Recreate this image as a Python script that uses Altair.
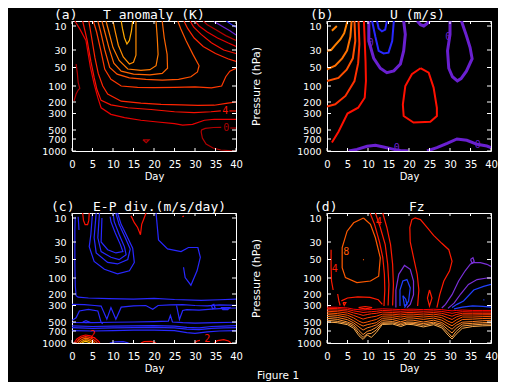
import altair as alt
import pandas as pd

FONT = "DejaVu Sans Mono"
SANS = "DejaVu Sans"
W, H = 164, 130
DAY_TICKS = [0, 5, 10, 15, 20, 25, 30, 35, 40]
P_TICKS = [10, 30, 50, 100, 200, 300, 500, 700, 1000]
P_DOMAIN = [6, 10, 30, 50, 100, 200, 300, 500, 700, 1000]
P_RANGE = [0, 5, 29, 46.5, 65, 81, 92.5, 109, 118, 130]

DKRED = "#b00000"
PURPLE = "#6a20d0"
BLUE = "#2828ff"

# ---------------- (a) T anomaly ----------------
A_LINES = [
    ("c2", "#e80000", 1.2, [0.7, 2.0, 3.4, 4.5, 5.4, 6.3, 7.1, 9.5, 12.8, 16.8, 20.9, 25.0, 27.0, 29.4, 32.3, 34.7, 40.0],
     [6, 13, 22, 50, 95, 173, 250, 310, 350, 382, 403, 423, 440, 431, 382, 370, 370]),
    ("c4", "#f81000", 1.2, [2.6, 3.7, 4.6, 5.4, 6.1, 7.1, 9.5, 13.6, 19.3, 25.0, 29.8, 33.9, 36.3],
     [6, 22, 43, 77, 124, 190, 225, 250, 265, 285, 293, 285, 278]),
    ("c4b", "#f81000", 1.2, [38.4, 40.0], [278, 278]),
    ("c6", "#ff2400", 1.2, [4.1, 4.8, 5.6, 6.4, 7.5, 8.7, 12.0, 16.8, 21.7, 26.6, 30.7, 34.7, 38.0, 40.0],
     [6, 20, 39, 66, 100, 150, 195, 210, 220, 225, 230, 228, 210, 200]),
    ("c8", "#ff3800", 1.2, [5.2, 6.0, 7.0, 8.0, 9.5, 12.0, 16.0, 20.0, 25.0, 30.0, 34.0, 36.5, 37.5, 38.5, 40.0],
     [6, 15, 30, 55, 82, 100, 108, 110, 108, 106, 112, 100, 75, 60, 52]),
    ("c10", "#ff5000", 1.2, [6.3, 7.0, 8.0, 9.2, 11.0, 14.0, 18.0, 22.0, 26.0, 29.0, 30.6, 31.0, 29.5, 27.8, 26.5, 25.8],
     [6, 15, 30, 50, 68, 78, 82, 84, 82, 75, 62, 48, 35, 22, 12, 6]),
    ("c12", "#ff6400", 1.2, [7.3, 8.0, 9.0, 10.2, 12.0, 15.0, 19.0, 22.0, 23.3, 23.2, 22.5, 22.0],
     [6, 15, 28, 45, 60, 68, 70, 66, 52, 35, 20, 6]),
    ("c14", "#ff7800", 1.2, [8.3, 9.0, 10.0, 11.5, 13.6, 16.8, 19.0, 20.5, 21.0, 20.8, 20.5],
     [6, 15, 28, 42, 54, 58, 56, 48, 35, 20, 6]),
    ("c16", "#ff8c00", 1.2, [10.0, 10.5, 11.3, 12.5, 14.0, 15.0, 15.6, 15.6, 15.6],
     [6, 14, 26, 38, 46, 44, 36, 20, 6]),
    ("c18", "#ffaa00", 1.2, [12.0, 12.3, 12.8, 13.4, 14.0, 14.5, 14.8], [6, 12, 20, 25, 22, 14, 6]),
    ("f6", "#ff2400", 1.2, [27.3, 28.2, 29.8, 32.0, 35.0, 38.0, 40.0], [6, 12, 20, 27, 34, 40, 43]),
    ("f4", "#f81000", 1.2, [28.8, 29.7, 31.5, 34.0, 37.0, 40.0], [6, 11, 17, 24, 30, 34]),
    ("f2", "#e80000", 1.2, [30.0, 31.0, 33.0, 35.5, 38.0, 40.0], [6, 10, 15, 20, 24, 27]),
    ("f0", DKRED, 1.2, [32.0, 33.0, 35.0, 37.5, 40.0], [6, 9, 13, 18, 22]),
    ("fm2", PURPLE, 1.2, [34.7, 36.5, 38.5, 40.0], [6.5, 10, 14, 17.5]),
    ("fm4", BLUE, 1.2, [37.6, 39.0, 40.0], [6, 9, 11]),
    ("z1", DKRED, 1.2, [1.0, 1.3, 1.5, 1.9, 1.5, 1.0, 0.5], [46, 65, 90, 115, 125, 150, 194]),
    ("z2", DKRED, 1.2, [40.0, 38.6], [476, 476]),
    ("z3", DKRED, 1.2, [36.4, 34.5, 32.5, 31.6, 31.5, 31.8, 32.7, 34.4, 36.3, 39.0, 40.0],
     [468, 470, 480, 500, 540, 678, 825, 925, 975, 995, 1000]),
    ("z4", DKRED, 1.2, [17.3, 18.8, 18.1, 17.3], [720, 720, 790, 720]),
]
A_LABELS = [("4", 37.4, 278, "#f81000"), ("0", 37.6, 474, DKRED)]

# ---------------- (b) U ----------------
B_LINES = [
    ("o0", "#ff8000", 2, [1.2, 2.4], [14, 10]),
    ("b1", "#ff8000", 2, [5.0, 4.2, 3.3, 2.0, 1.0, 0.0], [6, 16, 21, 26, 30, 31]),
    ("b2", "#ff7000", 2, [6.0, 5.7, 4.9, 3.7, 2.0, 0.0], [6, 19, 30.5, 39.5, 48, 55]),
    ("b3", "#ff5000", 2, [6.7, 6.9, 6.3, 4.8, 2.8, 0.0], [6, 22.5, 39.5, 56, 78, 86.5]),
    ("b4", "#ff3000", 2, [7.7, 7.9, 7.6, 6.7, 4.5, 2.0, 0.0], [6, 25, 45, 86.5, 162, 220, 240]),
    ("b5", "#ff1000", 2, [9.0, 9.2, 9.4, 9.5, 9.2, 7.6, 5.0, 4.1, 2.8, 1.2],
     [6, 22.5, 43, 86.5, 173, 250, 300, 391, 540, 790]),
    ("p0", PURPLE, 3, [10.2, 10.2, 11.4, 13.0, 14.6, 16.3, 17.9, 18.7, 19.1, 18.7],
     [6, 22.5, 39.5, 52, 64, 59, 46, 31, 17, 6]),
    ("n1", BLUE, 2, [11.0, 11.8, 12.6, 13.8, 15.0, 15.9, 16.3], [6, 19, 31, 34, 33, 22.5, 6]),
    ("n2", BLUE, 2, [12.2, 12.6, 13.4, 14.2, 14.6], [6, 12, 14.5, 13, 6]),
    ("p1", PURPLE, 3, [22.0, 22.8, 23.6, 24.4, 25.0], [6, 9, 10, 8, 6]),
    ("p2", PURPLE, 3, [30.0, 30.0, 29.4, 29.7, 30.6, 31.8, 32.7, 34.0, 35.4, 34.9, 34.0, 33.2, 32.8],
     [6, 17, 31, 52, 75, 86, 80, 60, 40, 28, 18, 10, 6]),
    ("r1", "#ff1000", 2, [22.8, 24.8, 26.0, 26.8, 26.8, 25.2, 21.1, 18.7, 18.5, 19.1, 20.7, 22.8],
     [52, 64, 110, 250, 330, 400, 410, 330, 222, 100, 68, 52]),
    ("p3", PURPLE, 3, [5.3, 7.3, 9.8, 11.8, 13.8, 16.3, 17.9, 19.9], [1000, 960, 880, 855, 900, 960, 985, 1000]),
    ("p4", PURPLE, 3, [24.4, 26.8, 29.3, 31.7, 34.1, 36.6, 39.0, 40.0], [1000, 917, 810, 700, 733, 833, 875, 917]),
]
B_LABELS = [("0", 17.0, 930, PURPLE), ("0", 36.8, 850, PURPLE), ("0", 29.6, 19, PURPLE), ("0", 10.7, 24, PURPLE)]

# ---------------- (c) E-P div ----------------
C_LINES = [
    ("e0", BLUE, 1.2, [0.8, 0.7, 0.7, 0.8, 1.0, 1.5, 4.0, 9.0, 15.0, 20.0, 25.0, 31.5, 36.0, 40.0],
     [9, 20, 60, 150, 215, 228, 235, 240, 245, 238, 248, 255, 250, 245]),
    ("e1", BLUE, 1.2, [1.5, 1.6, 1.7], [9, 14, 20]),
    ("m1", BLUE, 1.2, [0.0, 3.0, 5.5, 7.1, 8.5, 9.5, 10.7, 12.0, 15.0, 18.0, 19.7, 21.0, 24.0, 27.0, 30.0, 33.0, 36.0, 40.0],
     [290, 292, 300, 307, 466, 325, 466, 320, 305, 300, 345, 300, 295, 292, 300, 305, 295, 298]),
    ("m2", BLUE, 1.2, [0.0, 1.0, 1.8, 4.0, 6.3, 7.1, 7.5], [480, 450, 366, 346, 366, 511, 540]),
    ("l1", BLUE, 1.2, [2.6, 3.4, 4.2, 3.4, 2.6], [500, 485, 500, 515, 500]),
    ("m2b", BLUE, 1.2, [25.5, 26.2, 27.0, 28.0, 31.0, 34.0, 37.0, 40.0], [300, 470, 360, 350, 355, 345, 335, 330]),
    ("m3", BLUE, 1.2, [0, 5, 10, 15, 20, 23.5, 24, 24.5, 27, 30, 35, 40],
     [511, 515, 505, 500, 495, 490, 420, 500, 515, 525, 515, 505]),
    ("m4a", BLUE, 1.2, [0, 5, 10, 15, 20, 25, 28, 31, 34, 37, 40], [585, 600, 590, 585, 580, 590, 620, 630, 600, 590, 580]),
    ("m4b", BLUE, 1.2, [0, 5, 10, 15, 20, 25, 28, 31, 34, 37, 40], [625, 640, 630, 625, 620, 630, 660, 670, 640, 630, 625]),
    ("m5", BLUE, 1.2, [0, 5, 10, 15, 20, 25, 28, 30, 33, 36, 40], [690, 700, 690, 680, 680, 690, 740, 760, 720, 700, 690]),
    ("u1", BLUE, 1.2, [5.0, 4.6, 4.2, 5.4, 7.9, 11.1, 14.0, 15.2, 14.8, 13.2, 12.0, 11.1],
     [6, 23.8, 35.5, 55, 76.5, 89, 80.5, 58, 37, 23.8, 15.5, 6]),
    ("u2", BLUE, 1.2, [5.9, 5.4, 5.9, 8.7, 11.1, 13.6, 14.2, 13.0, 11.5, 10.7],
     [6, 26.5, 42.5, 58, 62, 50, 38, 26.5, 15.5, 6]),
    ("u3", BLUE, 1.2, [6.7, 6.3, 7.1, 9.5, 11.5, 13.2, 12.8, 11.5, 10.3, 10.0],
     [6, 26.5, 41, 47.5, 50.5, 44.5, 35.5, 23.8, 13, 6]),
    ("u4", BLUE, 1.2, [7.3, 7.1, 8.7, 10.7, 12.4, 11.8, 10.5, 9.5, 9.3], [10, 30, 38.8, 42.5, 41, 33, 22, 13, 9]),
    ("lobe", BLUE, 1.2, [20.5, 21.1, 23.3, 26.6, 28.4, 30.7, 31.3, 30.5, 29.0, 27.6, 27.2],
     [6, 28.3, 37.8, 41, 36.3, 36.3, 47.5, 80.5, 145, 99, 71]),
    ("ru", "#ff1000", 1.2, [2.6, 2.8, 3.2, 3.8, 4.1, 4.2], [6, 12, 15.5, 15.5, 12, 6]),
    ("rn", "#ff1000", 1.2, [14.4, 15.2, 16.0, 16.7, 17.0, 17.6, 18.05], [8.3, 13.9, 17.9, 23.9, 15.3, 10, 6]),
    ("rd", "#ff1000", 1.2, [26.9, 27.3], [9, 8.5]),
    ("k1", "#ff0000", 1.2, [0.5, 1.2, 2.2, 3.3, 4.5, 5.6, 6.4, 6.8], [1000, 900, 830, 800, 820, 880, 950, 1000]),
    ("k2", "#ff3000", 1.2, [1.0, 1.6, 2.4, 3.3, 4.3, 5.2, 5.9, 6.2], [1000, 920, 865, 840, 860, 910, 965, 1000]),
    ("k3", "#ff6000", 1.2, [1.5, 2.0, 2.7, 3.3, 4.1, 4.8, 5.4, 5.6], [1000, 940, 900, 880, 895, 935, 980, 1000]),
    ("k4", "#ff9000", 1.2, [2.0, 2.4, 2.9, 3.3, 3.9, 4.4, 4.9, 5.0], [1000, 960, 930, 920, 930, 955, 990, 1000]),
    ("k5", "#ffc000", 1.2, [2.5, 2.8, 3.3, 3.8, 4.2, 4.4], [1000, 975, 960, 970, 990, 1000]),
    ("bb", BLUE, 1.2, [9.2, 10.5, 12.5, 13.8], [1000, 970, 965, 1000]),
    ("rb1", "#ff1000", 1.2, [16.8, 17.6, 19.3, 20.5], [1000, 965, 960, 995]),
    ("rb2", "#ff1000", 1.2, [29.9, 30.5, 31.2], [1000, 950, 935]),
    ("rb3", "#ff1000", 1.2, [34.7, 35.5, 37.0, 38.2, 38.8], [1000, 940, 915, 950, 1000]),
    ("bl1", BLUE, 1.2, [34.0, 34.6, 34.9, 34.3, 34.0], [300, 290, 330, 340, 300]),
    ("bl2", BLUE, 1.2, [36.3, 38.5, 38.0, 36.8, 36.3], [325, 325, 350, 350, 325]),
]
C_LABELS = [("2", 5.0, 790, "#ff1000"), ("2", 33.0, 905, "#ff1000")]

# ---------------- (d) Fz ----------------
D_LINES = [
    ("loop8", "#ff5a00", 1.2, [8.9, 6.5, 4.9, 3.7, 3.7, 4.5, 7.3, 10.6, 12.6, 13.0, 11.8, 10.6, 8.9],
     [10, 14, 21, 36.5, 72, 99, 129, 119, 95, 48, 26.5, 15.3, 10]),
    ("dot", "#ff5a00", 1.2, [8.8, 9.0], [50, 51]),
    ("rl1", "#ff1a00", 1.2, [1.0, 1.0, 1.1, 1.5], [38.8, 70, 119, 175]),
    ("rl2", "#ff1a00", 1.2, [2.6, 2.9, 3.2], [200, 260, 300]),
    ("tri", "#ff1a00", 1.2, [3.9, 4.6, 4.2, 3.9], [275, 275, 300, 275]),
    ("rell", "#ff1a00", 1.2, [7.7, 9.3, 11.0, 9.3, 7.7], [325, 312, 325, 340, 325]),
    ("runder", "#ff1a00", 1.2, [3.5, 5.0, 7.5, 10.5, 12.5, 13.5], [260, 235, 225, 230, 250, 290]),
    ("r1", "#ff1a00", 1.2, [10.5, 11.6, 12.8, 13.6, 14.0, 14.1, 13.9], [6, 15.3, 30, 47.5, 90, 175, 307]),
    ("r2", "#ff1a00", 1.2, [11.8, 13.0, 14.2, 14.8, 15.1, 14.9], [6, 17.9, 33, 62, 140, 300]),
    ("r3", "#ff1a00", 1.2, [13.6, 14.6, 15.5, 16.0, 16.2, 16.0], [6, 17.9, 33, 62, 140, 300]),
    ("pu1", "#7a30d8", 1.2, [16.8, 16.8, 17.5, 18.9, 20.3, 21.1, 21.1, 20.3, 19.5], [325, 175, 90, 66, 76.5, 119, 206, 290, 325]),
    ("bl1", "#2040ff", 1.2, [17.8, 17.8, 18.5, 19.5, 20.3, 19.9, 18.9], [307, 175, 119, 110, 162, 262, 325]),
    ("bl2", "#2040ff", 1.2, [18.5, 19.2, 19.5, 18.9, 18.5], [215, 245, 290, 300, 215]),
    ("redU", "#ff1a00", 1.2, [22.1, 22.4, 22.0, 21.1, 20.3, 20.2, 20.7, 21.5, 22.8, 24.4, 26.0, 28.0, 29.7, 30.5, 29.9, 28.5, 27.5, 26.8],
     [307, 175, 90, 47.5, 30, 17.9, 11.3, 10, 11.3, 17.9, 24.5, 31.5, 38.8, 55, 80.5, 119, 206, 325]),
    ("rell2", "#ff1a00", 1.2, [25.0, 25.6, 25.0, 24.5, 25.0], [175, 235, 307, 235, 175]),
    ("pu0", "#7a30d8", 1.2, [35.0, 35.6, 35.9, 35.4, 35.0], [50, 48, 55, 60, 50]),
    ("pu2", "#7a30d8", 1.2, [28.0, 28.9, 30.5, 32.1, 33.7, 35.0, 35.8, 37.4, 39.0, 40.0], [330, 290, 206, 119, 80.5, 62, 58.7, 58.7, 63, 69]),
    ("pu3", "#7a30d8", 1.2, [29.5, 31.0, 32.6, 34.5, 36.6, 39.0, 40.0], [335, 280, 200, 140, 110, 100, 100]),
    ("bl3", "#2040ff", 1.2, [30.5, 31.7, 33.3, 35.8, 38.2, 40.0], [325, 290, 261, 175, 152, 140]),
    ("bl4", "#2040ff", 1.2, [31.0, 33.0, 35.5, 38.0, 40.0], [340, 320, 305, 310, 320]),
    ("bdot", "#2040ff", 1.2, [38.1, 38.4], [250, 252]),
]
BAND_DAYS = [0, 2.5, 5, 6.5, 7.8, 8.8, 9.8, 10.8, 12, 13.5, 16, 18, 19.5, 21, 23.5, 26, 28, 29.5, 30.5, 31.5, 33, 35.5, 38, 40]
BAND_COLORS = ["#ff0000", "#ff1500", "#ff2a00", "#ff4000", "#ff5500", "#ff6a10", "#ff7d20", "#ff9030", "#ffa040", "#ffb050"]
BAND_P = [
    [320, 322, 330, 345, 350, 355, 350, 350, 345, 340, 345, 350, 345, 345, 350, 345, 350, 360, 365, 360, 355, 360, 360, 360],
    [335, 338, 348, 365, 375, 385, 380, 375, 370, 360, 365, 370, 365, 365, 370, 365, 372, 385, 395, 385, 375, 378, 378, 378],
    [352, 356, 368, 390, 405, 420, 410, 400, 395, 380, 385, 392, 385, 385, 392, 385, 395, 415, 430, 410, 395, 395, 395, 395],
    [370, 376, 392, 420, 445, 465, 450, 440, 430, 405, 405, 415, 405, 405, 415, 405, 420, 450, 470, 440, 415, 415, 413, 412],
    [390, 398, 418, 450, 490, 520, 500, 485, 470, 430, 425, 440, 428, 428, 440, 428, 448, 490, 520, 475, 440, 440, 435, 432],
    [410, 420, 445, 485, 545, 590, 560, 540, 515, 455, 448, 468, 450, 452, 468, 452, 478, 540, 585, 520, 470, 465, 458, 455],
    [432, 444, 472, 520, 610, 680, 630, 605, 565, 480, 470, 498, 475, 478, 500, 478, 512, 600, 660, 575, 505, 495, 485, 480],
    [455, 468, 500, 560, 690, 790, 710, 680, 620, 505, 495, 530, 500, 505, 535, 505, 550, 670, 750, 640, 545, 530, 515, 510],
    [478, 492, 530, 600, 760, 860, 770, 760, 680, 530, 520, 565, 525, 532, 572, 532, 590, 740, 850, 710, 590, 565, 550, 545],
    [500, 515, 560, 640, 820, 910, 800, 860, 740, 555, 545, 600, 550, 560, 610, 560, 630, 800, 900, 780, 640, 600, 585, 580],
]
for i, (col, ps) in enumerate(zip(BAND_COLORS, BAND_P)):
    D_LINES.append(("band%d" % i, col, 1.0, BAND_DAYS, ps))
D_LABELS = [("8", 4.7, 41, "#ff5a00"), ("4", 1.9, 76, "#ff1a00"), ("4", 12.6, 13, "#ff1a00")]


def lines_df(lines):
    rows = []
    for name, color, width, days, ps in lines:
        for i, (d, p) in enumerate(zip(days, ps)):
            rows.append({"id": name, "color": color, "w": width, "day": d, "p": p, "order": i})
    return pd.DataFrame(rows)


xs = alt.Scale(domain=[0, 40], nice=False, zero=False)
ys = alt.Scale(domain=P_DOMAIN, range=P_RANGE, nice=False, zero=False)

TITLE_Y = -2


def make_panel(lines, labels, tag, title, tag_x, title_x, ytitle, extra=None):
    xa = alt.Axis(values=DAY_TICKS, title="Day", grid=False, ticks=False, tickSize=0, domain=False,
                  labelColor="white", titleColor="white", labelFont=SANS, titleFont=SANS,
                  labelFontSize=10, titleFontSize=10, titleFontWeight="normal",
                  labelPadding=8, titlePadding=2, labelFlush=False, labelOverlap=False, labelAngle=0)
    ykw = dict(values=P_TICKS, grid=False, ticks=False, tickSize=0, domain=False,
               labelColor="white", labelFont=SANS, labelFontSize=9.5, labelPadding=6,
               labelFlush=False, labelOverlap=False, format="d")
    if ytitle:
        ya = alt.Axis(title="Pressure (hPa)", titleColor="white", titleFont=SANS, titleFontSize=11,
                      titleFontWeight="normal", titleX=-71, titleY=H / 2, titleBaseline="middle",
                      titleAlign="center", **ykw)
    else:
        ya = alt.Axis(title=None, **ykw)
    X = alt.X("day:Q", scale=xs, axis=xa)
    Y = alt.Y("p:Q", scale=ys, axis=ya)

    contour = alt.Chart(lines_df(lines)).mark_line(clip=True, interpolate="linear").encode(
        x=X, y=Y, detail="id:N", order="order:Q",
        color=alt.Color("color:N", scale=None),
        strokeWidth=alt.StrokeWidth("w:Q", scale=None),
    )
    ldf = pd.DataFrame(labels, columns=["t", "day", "p", "color"])
    lab = alt.Chart(ldf).mark_text(font=FONT, fontSize=10, align="center", baseline="middle").encode(
        x=X, y=Y, text="t:N", color=alt.Color("color:N", scale=None))

    ydf = pd.DataFrame({"p": P_TICKS})
    xdf = pd.DataFrame({"day": DAY_TICKS})
    tl = alt.Chart(ydf).mark_rule(color="white", strokeWidth=1).encode(y=Y, x=alt.value(0), x2=alt.value(4))
    tr = alt.Chart(ydf).mark_rule(color="white", strokeWidth=1).encode(y=Y, x=alt.value(W), x2=alt.value(W - 4))
    tb = alt.Chart(xdf).mark_rule(color="white", strokeWidth=1).encode(x=X, y=alt.value(H), y2=alt.value(H - 3))
    tt = alt.Chart(xdf).mark_rule(color="white", strokeWidth=1).encode(x=X, y=alt.value(0), y2=alt.value(3))

    def txt(s, x, y, size=13, font=FONT):
        return alt.Chart(pd.DataFrame({"t": [s]})).mark_text(
            font=font, fontSize=size, align="left", baseline="alphabetic", color="white").encode(
            x=alt.value(x), y=alt.value(y), text="t:N")

    layers = [contour, lab, tl, tr, tb, tt, txt(tag, tag_x, TITLE_Y), txt(title, title_x, TITLE_Y)]
    if extra:
        layers.append(txt(extra[0], extra[1], extra[2], extra[3], SANS))
    return alt.layer(*layers).properties(width=W, height=H)


pa = make_panel(A_LINES, A_LABELS, "(a)", "T anomaly (K)", -18, 31, False)
pb = make_panel(B_LINES, B_LABELS, "(b)", "U (m/s)", -17, 63, True)
pc = make_panel(C_LINES, C_LABELS, "(c)", "E-P div.(m/s/day)", -21, 21, False)
pdd = make_panel(D_LINES, D_LABELS, "(d)", "Fz", -13, 82, True, extra=("Figure 1", -70, 166, 10.5))

chart = alt.concat(pa, pb, pc, pdd, columns=2, spacing={"row": 62, "column": 91}, bounds="flush").properties(
    background="black", padding={"left": 33, "top": 0, "right": 0, "bottom": 0}
).configure_view(stroke="white", strokeWidth=1)

chart.save("out.html", embed_options={"renderer": "svg", "actions": False})
